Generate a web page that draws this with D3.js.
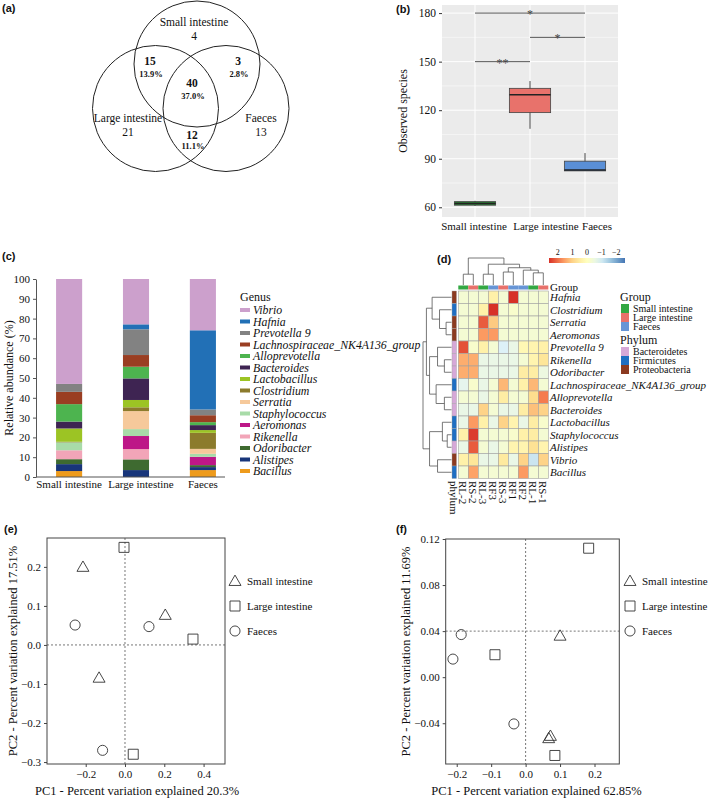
<!DOCTYPE html>
<html>
<head>
<meta charset="utf-8">
<script src="https://cdn.jsdelivr.net/npm/d3@7"></script>
<style>
body { margin: 0; background: #fff; }
text { font-family: "Liberation Serif", "Times New Roman", serif; fill: #111; }
.plab { font-family: "Liberation Sans", Arial, sans-serif; font-weight: bold; font-size: 11px; }
</style>
</head>
<body>
<svg id="fig" width="709" height="800"></svg>
<script>
// ---------- data ----------
// (a) venn
var vennSets = ["Small intestine", "Large intestine", "Faeces"];
var vennOnly = [4, 21, 13];
var vennShared = ["15", "3", "40", "12"];          // S&L, S&F, all, L&F
var vennShare = ["13.9%", "2.8%", "37.0%", "11.1%"];

// (b) observed species
var boxGroups = ["Small intestine", "Large intestine", "Faeces"];
var boxLow = [60.8, 108.5, 82.5];
var boxQ1 = [61.3, 118.5, 82.5];
var boxMed = [62.3, 129.5, 83];
var boxQ3 = [63.5, 133.5, 88.5];
var boxHigh = [64, 138, 93.5];
var boxTicks = [60, 90, 120, 150, 180];
var sigPairs = [[0, 2, 180, "*"], [1, 2, 165, "*"], [0, 1, 150, "**"]];

// (c) genus composition, bottom to top
var genera = ["Bacillus", "Alistipes", "Odoribacter", "Rikenella", "Aeromonas", "Staphylococcus",
  "Serratia", "Clostridium", "Lactobacillus", "Bacteroides", "Alloprevotella",
  "Lachnospiraceae_NK4A136_group", "Prevotella 9", "Hafnia", "Vibrio"];
var genusColors = ["#EE9B1C", "#18357A", "#3E6A30", "#F2A5B8", "#BD1787", "#A8DBA8",
  "#F6C99B", "#8C7B2C", "#9CC424", "#3E2452", "#4DB44F", "#9A3E22", "#828282", "#2270B6", "#CCA0CC"];
var sites = ["Small intestine", "Large intestine", "Faeces"];
var smallAbund = [3, 3.5, 2.5, 4.5, 0, 4, 0, 0.3, 6.7, 3.5, 8.8, 6.2, 4, 0, 53];
var largeAbund = [0, 3.5, 5.4, 5.2, 6.6, 3.5, 9.1, 1.9, 3.7, 10.9, 5.9, 5.9, 13, 2.5, 22.9];
var faecesAbund = [3.5, 1.5, 1, 0, 4.2, 1.5, 2.5, 8.1, 1.4, 2.5, 1.5, 3.5, 2.9, 40, 25.9];
var abundTicks = [0, 10, 20, 30, 40, 50, 60, 70, 80, 90, 100];

// (d) heatmap
var heatRows = ["Hafnia", "Clostridium", "Serratia", "Aeromonas", "Prevotella 9", "Rikenella",
  "Odoribacter", "Lachnospiraceae_NK4A136_group", "Alloprevotella", "Bacteroides",
  "Lactobacillus", "Staphylococcus", "Alistipes", "Vibrio", "Bacillus"];
var heatCols = ["RL-2", "RS-2", "RL-3", "RF3", "RS-3", "RF1", "RF2", "RL-1", "RS-1"];
var colGroup = [0, 1, 0, 2, 1, 2, 2, 0, 1];
var rowPhylum = [2, 1, 2, 2, 0, 0, 0, 1, 0, 0, 1, 1, 0, 2, 1];
var heatVals = [
  [-0.3, -0.3, -0.3, 0.4, -0.3, 2.6, -0.3, -0.3, -0.3],
  [-0.3, -0.3, 0.4, 2.6, -0.3, -0.2, -0.3, -0.3, -0.3],
  [-0.3, -0.3, 2.2, 1.1, -0.3, -0.3, -0.3, -0.3, -0.3],
  [-0.3, -0.3, 1.6, 1.6, -0.3, -0.3, -0.3, -0.3, -0.3],
  [2.3, -0.2, 0.4, -0.3, -0.9, -0.6, 0.2, 0.3, 0.4],
  [1.4, 1.4, -0.6, -0.6, -0.6, -0.6, -0.3, 0.3, 0.7],
  [1.4, 1.4, -0.6, -0.6, -0.6, -0.6, 0.5, 0.5, -0.5],
  [-0.7, -0.2, -0.6, -0.3, 1.3, -0.3, 0.4, 1.3, -0.3],
  [-0.3, -0.3, -0.6, -0.3, 0.5, -0.3, -0.3, 0.9, 1.9],
  [-0.6, -0.6, 1.0, -0.3, -0.6, -0.6, 0.5, 1.2, 1.0],
  [-0.6, 1.6, 0.4, -0.6, 1.0, 0.3, -0.6, 0.5, -0.2],
  [0.4, 2.5, -0.3, -0.3, -0.3, -0.2, 0.4, 0.5, -0.3],
  [-0.6, 2.2, -0.3, -0.6, -0.3, 0.3, 0.3, 0.8, 0.3],
  [0.4, 0.7, -0.6, -0.6, 0.6, -0.6, 1.0, -1.1, 1.0],
  [-0.3, 1.5, -0.3, -0.3, -0.3, -0.3, 1.6, -0.3, -0.3]
];
// hclust-style merges: negative = leaf (1-based), positive = earlier merge
var colMerges = [[-1, -2, 0.4], [-3, -4, 0.4], [-5, -6, 0.48], [-8, -9, 0.45],
  [-7, 4, 0.55], [3, 5, 0.64], [2, 6, 0.77], [1, 7, 1.0]];
var rowMerges = [[-3, -4, 0.19], [-2, 1, 0.42], [-1, 2, 0.68],
  [-6, -7, 0.25], [-5, 4, 0.49], [-9, -10, 0.25], [-8, 6, 0.54], [5, 7, 0.77], [3, 8, 0.88],
  [-12, -13, 0.15], [-11, 10, 0.32], [-14, -15, 0.49], [11, 12, 0.77], [9, 13, 1.0]];
var groupNames = ["Small intestine", "Large intestine", "Faeces"];
var groupColors = ["#33A843", "#E8716B", "#6795D6"];
var phylumNames = ["Bacteroidetes", "Firmicutes", "Proteobacteria"];
var phylumColors = ["#D6A8D8", "#1F6EC2", "#8B3A20"];
var heatTicks = [2, 1, 0, -1, -2];

// (e) PCoA
var pcaGroups = ["Small intestine", "Large intestine", "Faeces"];
var eX = [[-0.214, 0.205, -0.132], [-0.005, 0.346, 0.042], [-0.254, 0.122, -0.114]];
var eY = [[0.200, 0.077, -0.084], [0.250, 0.015, -0.280], [0.051, 0.047, -0.270]];
var eXTicks = [-0.2, 0.0, 0.2, 0.4];
var eYTicks = [-0.3, -0.2, -0.1, 0.0, 0.1, 0.2];
// (f) PCA
var fX = [[0.100, 0.067, 0.072], [0.183, -0.089, 0.085], [-0.187, -0.211, -0.034]];
var fY = [[0.036, -0.053, -0.051], [0.112, 0.0195, -0.068], [0.037, 0.0157, -0.0406]];
var fXTicks = [-0.2, -0.1, 0.0, 0.1, 0.2];
var fYTicks = [-0.04, 0.00, 0.04, 0.08, 0.12];

var svg = d3.select("#fig");

// panel letters
var letters = [["(a)", 2, 12], ["(b)", 396, 13], ["(c)", 2, 260], ["(d)", 437, 263], ["(e)", 4, 533], ["(f)", 396, 533]];
svg.selectAll("text.plab").data(letters).enter().append("text")
  .attr("class", "plab").attr("x", d => d[1]).attr("y", d => d[2]).text(d => d[0]);

// ---------- (a) Venn ----------
var ga = svg.append("g");
var circ = [[197, 64], [155.5, 108.5], [226, 108.5]];
ga.selectAll("circle").data(circ).enter().append("circle")
  .attr("cx", d => d[0]).attr("cy", d => d[1]).attr("r", 63)
  .attr("fill", "none").attr("stroke", "#222").attr("stroke-width", 1);
var setPos = [[194, 26], [128, 122], [261, 122]];
vennSets.forEach(function (s, i) {
  ga.append("text").attr("x", setPos[i][0]).attr("y", setPos[i][1]).attr("text-anchor", "middle")
    .style("font-size", "11.5px").text(s);
  ga.append("text").attr("x", setPos[i][0]).attr("y", setPos[i][1] + 14).attr("text-anchor", "middle")
    .style("font-size", "11.5px").text(vennOnly[i]);
});
var sharePos = [[150, 65], [238, 65], [192, 87], [192, 139]];
vennShared.forEach(function (s, i) {
  ga.append("text").attr("x", sharePos[i][0]).attr("y", sharePos[i][1]).attr("text-anchor", "middle")
    .style("font-size", "11.5px").style("font-weight", "bold").text(s);
  ga.append("text").attr("x", sharePos[i][0] + 1).attr("y", sharePos[i][1] + (i == 3 ? 10 : 12)).attr("text-anchor", "middle")
    .style("font-size", "8.5px").style("font-weight", "bold").text(vennShare[i]);
});

// ---------- (b) box plot ----------
var gb = svg.append("g");
var bx = d3.scalePoint().domain(boxGroups).range([442, 618]).padding(0.6);
var by = d3.scaleLinear().domain([54, 185]).range([217, 5]);
gb.append("rect").attr("x", 442).attr("y", 5).attr("width", 176).attr("height", 212).attr("fill", "#EBEBEB");
gb.selectAll("line.minor").data([75, 105, 135, 165]).enter().append("line")
  .attr("x1", 442).attr("x2", 618).attr("y1", d => by(d)).attr("y2", d => by(d))
  .attr("stroke", "#fff").attr("stroke-width", 0.5);
gb.selectAll("line.major").data(boxTicks).enter().append("line")
  .attr("x1", 442).attr("x2", 618).attr("y1", d => by(d)).attr("y2", d => by(d))
  .attr("stroke", "#fff").attr("stroke-width", 1);
gb.selectAll("line.vg").data(boxGroups).enter().append("line")
  .attr("x1", d => bx(d)).attr("x2", d => bx(d)).attr("y1", 5).attr("y2", 217)
  .attr("stroke", "#fff").attr("stroke-width", 1);
var bw = bx.step() * 0.75;
var boxFill = ["#2E8038", "#E8726B", "#5A8FD6"];
boxGroups.forEach(function (g, i) {
  var cx = bx(g);
  gb.append("line").attr("x1", cx).attr("x2", cx).attr("y1", by(boxHigh[i])).attr("y2", by(boxLow[i]))
    .attr("stroke", "#444").attr("stroke-width", 1);
  gb.append("rect").attr("x", cx - bw / 2).attr("width", bw)
    .attr("y", by(boxQ3[i])).attr("height", by(boxQ1[i]) - by(boxQ3[i]))
    .attr("fill", boxFill[i]).attr("stroke", "#444").attr("stroke-width", 0.8);
  gb.append("line").attr("x1", cx - bw / 2).attr("x2", cx + bw / 2).attr("y1", by(boxMed[i])).attr("y2", by(boxMed[i]))
    .attr("stroke", "#222").attr("stroke-width", 1.6);
});
sigPairs.forEach(function (p) {
  var x1 = bx(boxGroups[p[0]]), x2 = bx(boxGroups[p[1]]);
  gb.append("line").attr("x1", x1).attr("x2", x2).attr("y1", by(p[2])).attr("y2", by(p[2]))
    .attr("stroke", "#555").attr("stroke-width", 1);
  gb.append("text").attr("x", (x1 + x2) / 2).attr("y", by(p[2]) + 5).attr("text-anchor", "middle")
    .style("font-size", "12px").style("fill", "#444").text(p[3]);
});
var bAxis = gb.append("g").attr("transform", "translate(442,0)")
  .call(d3.axisLeft(by).tickValues(boxTicks).tickSize(3).tickFormat(d3.format("d")));
bAxis.select(".domain").remove();
bAxis.selectAll("line").attr("stroke", "#333");
bAxis.selectAll("text").style("font-size", "11.5px").style("font-family", "Liberation Serif").attr("fill", "#222");
// category labels sit a little right of the boxes in the original
var bLabelShift = [-1, 16, 12];
boxGroups.forEach(function (g, i) {
  gb.append("text").attr("x", bx(g) + bLabelShift[i]).attr("y", 230).attr("text-anchor", "middle")
    .style("font-size", "11px").text(g);
});
gb.append("text").attr("transform", "translate(407,111) rotate(-90)").attr("text-anchor", "middle")
  .style("font-size", "12px").text("Observed species");

// ---------- (c) stacked bars ----------
var gc = svg.append("g");
var cx = d3.scaleBand().domain(sites).range([36, 236]).paddingInner(0.61).paddingOuter(0.3);
var cy = d3.scaleLinear().domain([0, 100]).range([477, 279]);
var siteAbund = [smallAbund, largeAbund, faecesAbund];
sites.forEach(function (s, i) {
  var cum = 0;
  genera.forEach(function (g, j) {
    var v = siteAbund[i][j];
    if (v > 0) {
      gc.append("rect").attr("x", cx(s)).attr("width", cx.bandwidth())
        .attr("y", cy(cum + v)).attr("height", cy(cum) - cy(cum + v)).attr("fill", genusColors[j]);
    }
    cum += v;
  });
  gc.append("text").attr("x", cx(s) + cx.bandwidth() / 2 + (i == 1 ? 5 : 0)).attr("y", 488).attr("text-anchor", "middle")
    .style("font-size", "11px").text(s);
});
var cAxis = gc.append("g").attr("transform", "translate(36,0)")
  .call(d3.axisLeft(cy).tickValues(abundTicks).tickSize(3).tickSizeOuter(0));
cAxis.selectAll("line,path").attr("stroke", "#555");
cAxis.selectAll("text").style("font-size", "11px").style("font-family", "Liberation Serif").attr("fill", "#222");
gc.append("line").attr("x1", 36).attr("x2", 225).attr("y1", 477).attr("y2", 477).attr("stroke", "#555");
gc.append("text").attr("transform", "translate(13,378) rotate(-90)").attr("text-anchor", "middle")
  .style("font-size", "12px").text("Relative abundance (%)");
gc.append("text").attr("x", 240).attr("y", 301).style("font-size", "12px").text("Genus");
var legOrder = genera.slice().reverse();
legOrder.forEach(function (g, i) {
  var j = genera.indexOf(g);
  var yy = 310 + i * 11.5;
  gc.append("rect").attr("x", 240).attr("y", yy - 2).attr("width", 10).attr("height", 4).attr("fill", genusColors[j]);
  gc.append("text").attr("x", 253).attr("y", yy + 4).style("font-size", "11.8px").style("font-style", "italic").text(g);
});

// ---------- (d) heatmap ----------
var gd = svg.append("g");
var hx = d3.scaleBand().domain(heatCols).range([458.3, 548.3]);
var hy = d3.scaleBand().domain(heatRows).range([291, 478.5]);
var hcol = d3.scaleLinear().domain([-2.6, -1.73, -0.87, 0, 0.87, 1.73, 2.6])
  .range(["#4575B4", "#91BFDB", "#E0F3F8", "#FFFFBF", "#FEE090", "#FC8D59", "#D73027"]);
heatRows.forEach(function (r, i) {
  heatCols.forEach(function (c, j) {
    gd.append("rect").attr("x", hx(c)).attr("y", hy(r)).attr("width", hx.bandwidth()).attr("height", hy.bandwidth())
      .attr("fill", hcol(heatVals[i][j])).attr("stroke", "#A0A0A0").attr("stroke-width", 0.6);
  });
  gd.append("rect").attr("x", 452).attr("y", hy(r)).attr("width", 4.5).attr("height", hy.bandwidth())
    .attr("fill", phylumColors[rowPhylum[i]]).attr("stroke", "#A0A0A0").attr("stroke-width", 0.4);
  gd.append("text").attr("x", 550).attr("y", hy(r) + hy.bandwidth() / 2 + 4)
    .style("font-size", "11px").style("font-style", "italic").text(r);
});
heatCols.forEach(function (c, j) {
  gd.append("rect").attr("x", hx(c)).attr("y", 285.5).attr("width", hx.bandwidth()).attr("height", 4)
    .attr("fill", groupColors[colGroup[j]]);
  gd.append("text").attr("transform", "translate(" + (hx(c) + hx.bandwidth() / 2) + ",481) rotate(90)")
    .attr("dy", "0.35em").style("font-size", "11px").text(c);
});
gd.append("text").attr("transform", "translate(454.3,481) rotate(90)").attr("dy", "0.35em")
  .style("font-size", "11px").text("phylum");
gd.append("text").attr("x", 550).attr("y", 291).style("font-size", "11px").text("Group");

function dendro(g, merges, leafPos, hPx, vertical) {
  var pos = [], ht = [];
  function P(i) { return i < 0 ? leafPos(-i - 1) : pos[i - 1]; }
  function H(i) { return i < 0 ? 0 : ht[i - 1]; }
  merges.forEach(function (m, k) {
    var pa = P(m[0]), pb = P(m[1]);
    var ha = hPx(H(m[0])), hb = hPx(H(m[1])), hm = hPx(m[2]);
    pos[k] = (pa + pb) / 2; ht[k] = m[2];
    var d = vertical
      ? "M" + pa + "," + ha + "V" + hm + "H" + pb + "V" + hb
      : "M" + ha + "," + pa + "H" + hm + "V" + pb + "H" + hb;
    g.append("path").attr("d", d).attr("fill", "none").attr("stroke", "#555").attr("stroke-width", 0.8);
  });
}
dendro(gd, colMerges, i => hx(heatCols[i]) + hx.bandwidth() / 2, h => 285 - h * 27, true);
dendro(gd, rowMerges, i => hy(heatRows[i]) + hy.bandwidth() / 2, h => 451.5 - h * 28.5, false);

// colour key
var defs = svg.append("defs");
var grad = defs.append("linearGradient").attr("id", "hk");
d3.range(0, 1.01, 0.1).forEach(function (t) {
  grad.append("stop").attr("offset", t).attr("stop-color", hcol(2.6 - t * 5.2));
});
var kx = d3.scaleLinear().domain([2.6, -2.6]).range([549, 625]);
gd.append("rect").attr("x", 549).attr("y", 258).attr("width", 76).attr("height", 5).attr("fill", "url(#hk)");
heatTicks.forEach(function (t) {
  gd.append("text").attr("x", kx(t)).attr("y", 255).attr("text-anchor", "middle").style("font-size", "8px")
    .text(t < 0 ? "\u2212" + (-t) : t);
});
// annotation legend
gd.append("text").attr("x", 620).attr("y", 301).style("font-size", "12px").text("Group");
groupNames.forEach(function (n, i) {
  gd.append("rect").attr("x", 621).attr("y", 304 + i * 9).attr("width", 8).attr("height", 9).attr("fill", groupColors[i]);
  gd.append("text").attr("x", 633).attr("y", 311.5 + i * 9).style("font-size", "10px").text(n);
});
gd.append("text").attr("x", 620).attr("y", 344).style("font-size", "12px").text("Phylum");
phylumNames.forEach(function (n, i) {
  gd.append("rect").attr("x", 621).attr("y", 347 + i * 9).attr("width", 8).attr("height", 9).attr("fill", phylumColors[i]);
  gd.append("text").attr("x", 633).attr("y", 354.5 + i * 9).style("font-size", "10px").text(n);
});

// ---------- (e), (f) ordination ----------
var symType = [d3.symbolTriangle, d3.symbolSquare, d3.symbolCircle];
var symSize = [62, 100, 80];
function marker(g, k, x, y) {
  g.append("path").attr("d", d3.symbol().type(symType[k]).size(symSize[k])())
    .attr("transform", "translate(" + x + "," + (y + (k == 0 ? 1 : 0)) + ")")
    .attr("fill", "none").attr("stroke", "#333").attr("stroke-width", 0.9);
}
function ordPlot(o) {
  var g = svg.append("g");
  var x = d3.scaleLinear().domain(o.xd).range([o.l, o.r]);
  var y = d3.scaleLinear().domain(o.yd).range([o.b, o.t]);
  g.append("line").attr("x1", x(0)).attr("x2", x(0)).attr("y1", o.t).attr("y2", o.b)
    .attr("stroke", "#777").attr("stroke-dasharray", "2,2");
  g.append("line").attr("x1", o.l).attr("x2", o.r).attr("y1", y(o.h0)).attr("y2", y(o.h0))
    .attr("stroke", "#777").attr("stroke-dasharray", "2,2");
  g.append("rect").attr("x", o.l).attr("y", o.t).attr("width", o.r - o.l).attr("height", o.b - o.t)
    .attr("fill", "none").attr("stroke", "#444").attr("stroke-width", 1);
  var ax = g.append("g").attr("transform", "translate(0," + o.b + ")")
    .call(d3.axisBottom(x).tickValues(o.xt).tickSize(3).tickFormat(d3.format(".1f")));
  var ay = g.append("g").attr("transform", "translate(" + o.l + ",0)")
    .call(d3.axisLeft(y).tickValues(o.yt).tickSize(3).tickFormat(d3.format(o.yf)));
  [ax, ay].forEach(function (a) {
    a.select(".domain").remove();
    a.selectAll("line").attr("stroke", "#444");
    a.selectAll("text").style("font-size", "11px").style("font-family", "Liberation Serif").attr("fill", "#222");
  });
  o.px.forEach(function (arr, k) {
    arr.forEach(function (v, i) { marker(g, k, x(v), y(o.py[k][i])); });
  });
  pcaGroups.forEach(function (n, k) {
    marker(g, k, o.lx, 581 + k * 25);
    g.append("text").attr("x", o.lx + 12).attr("y", 585 + k * 25).style("font-size", "11px").text(n);
  });
  g.append("text").attr("x", (o.l + o.r) / 2 + o.tdx).attr("y", 795).attr("text-anchor", "middle")
    .style("font-size", "12.5px").text(o.xlab);
  g.append("text").attr("transform", "translate(" + o.yl + "," + ((o.t + o.b) / 2) + ") rotate(-90)")
    .attr("text-anchor", "middle").style("font-size", "12.5px").text(o.ylab);
}
ordPlot({ xd: [-0.397, 0.509], yd: [-0.305, 0.274], l: 47, r: 225, t: 538, b: 764, h0: 0,
  xt: eXTicks, yt: eYTicks, yf: ".1f", px: eX, py: eY, lx: 235, yl: 17, tdx: 1,
  xlab: "PC1 - Percent variation explained 20.3%", ylab: "PC2  - Percent variation explained 17.51%" });
ordPlot({ xd: [-0.232, 0.272], yd: [-0.0754, 0.12], l: 445.7, r: 619.3, t: 539, b: 764, h0: 0.04,
  xt: fXTicks, yt: fYTicks, yf: ".2f", px: fX, py: fY, lx: 630, yl: 410, tdx: 4,
  xlab: "PC1 - Percent variation explained 62.85%", ylab: "PC2  - Percent variation explained 11.69%" });
</script>
</body>
</html>
